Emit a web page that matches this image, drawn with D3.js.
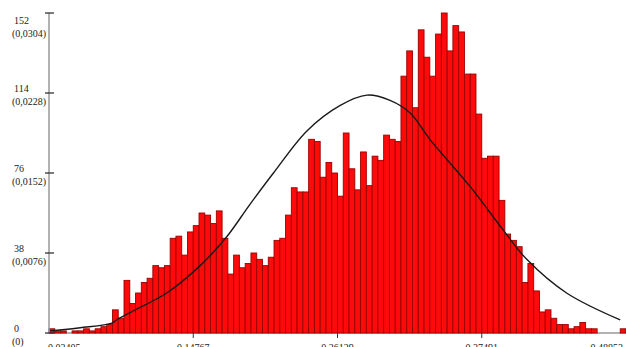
<!DOCTYPE html>
<html><head><meta charset="utf-8">
<script src="https://cdn.jsdelivr.net/npm/d3@7"></script>
<style>html,body{margin:0;padding:0;background:#fff;overflow:hidden}</style>
</head><body>
<svg id="c" width="626" height="347"></svg>
<script>
// bin counts (100 bins)
const counts = [2,1,1,0,1,1,2,1,2,3,
  4,11,7,25,14,19,24,26,32,31,
  32,45,46,37,48,51,57,56,52,58,
  45,28,37,31,33,38,35,32,36,44,
  45,56,69,67,67,92,91,74,81,76,
  65,95,78,68,86,70,84,82,94,92,
  91,122,134,107,144,131,122,142,152,134,
  146,143,123,123,104,83,84,84,63,47,
  44,41,24,33,20,10,11,7,4,4,
  2,3,5,2,2,0,0,0,0,2];
// fitted curve points: [bin position, count]
const curveX = [0.2,5.4,10.9,11.7,14.6,20.4,26.2,30.8,34.8,38.9,44.7,50.4,55.1,59.1,62.6,66.0,73.0,78.7,82.8,89.7,99.0];
const curveY = [1,2.5,4.7,6.2,10.5,19,32,45.7,61,76,96,108,113,110.5,104.5,92,69.5,49,35,19,6.2];
const yTickValues = [0,38,76,114,152];
const yTickLabels = ["0","38","76","114","152"];
const yTickShares = ["(0)","(0,0076)","(0,0152)","(0,0228)","(0,0304)"];
const xTickValues = [0,25,50,75,100];
const xTickLabels = ["0,03405","0,14767","0,26129","0,37491","0,48853"];

const svg = d3.select("#c");
const x = d3.scaleLinear().domain([0,100]).range([49,626]);
const y = d3.scaleLinear().domain([0,152]).range([333,13]);

// x baseline
svg.append("line").attr("x1",x(0)).attr("x2",x(100)).attr("y1",y(0)).attr("y2",y(0))
  .attr("stroke","#999").attr("stroke-width",1.5);

// bars
svg.append("g").selectAll("rect").data(counts).join("rect")
  .attr("x",(d,i)=>x(i)).attr("width",(d,i)=>x(i+1)-x(i))
  .attr("y",d=>y(d)).attr("height",d=>y(0)-y(d))
  .attr("fill","#ff0a0a").attr("stroke","#9a0000").attr("stroke-width",0.9)
  .attr("display",d=>d>0?null:"none");

// curve
const pts = curveX.map((v,i)=>[v,curveY[i]]);
svg.append("path").datum(pts)
  .attr("d",d3.line().x(d=>x(d[0])).y(d=>y(d[1])).curve(d3.curveCatmullRom))
  .attr("fill","none").attr("stroke","#1a1a1a").attr("stroke-width",1.4);

// y axis
svg.append("line").attr("x1",49).attr("x2",49).attr("y1",y(152)).attr("y2",y(0))
  .attr("stroke","#999").attr("stroke-width",1.5);
const yt = svg.append("g");
yTickValues.forEach((v,i)=>{
  const ty = y(v);
  yt.append("line").attr("x1",45).attr("x2",54).attr("y1",ty).attr("y2",ty)
    .attr("stroke","#333").attr("stroke-width",1.3);
  const ny = Math.max(ty-5, 20);
  yt.append("text").attr("x",14).attr("y",ny).attr("dy","0.35em")
    .attr("font-family","Liberation Serif").attr("font-size",10).attr("fill","#222")
    .text(yTickLabels[i]);
  yt.append("text").attr("x",12).attr("y",ny+13.5).attr("dy","0.35em")
    .attr("font-family","Liberation Serif").attr("font-size",10).attr("fill","#222")
    .text(yTickShares[i]);
});

// x ticks
const xt = svg.append("g");
xTickValues.forEach((v,i)=>{
  const tx = x(v);
  if(i>0 && i<xTickValues.length-1){
    xt.append("line").attr("x1",tx).attr("x2",tx).attr("y1",333).attr("y2",338)
      .attr("stroke","#333").attr("stroke-width",1);
  }
  const anchor = i===0?"start":(i===xTickValues.length-1?"end":"middle");
  xt.append("text").attr("x",i===0?tx-1:(i===xTickValues.length-1?tx-3:tx)).attr("y",351)
    .attr("text-anchor",anchor)
    .attr("font-family","Liberation Serif").attr("font-size",10).attr("fill","#222")
    .text(xTickLabels[i]);
});
</script>
</body></html>
